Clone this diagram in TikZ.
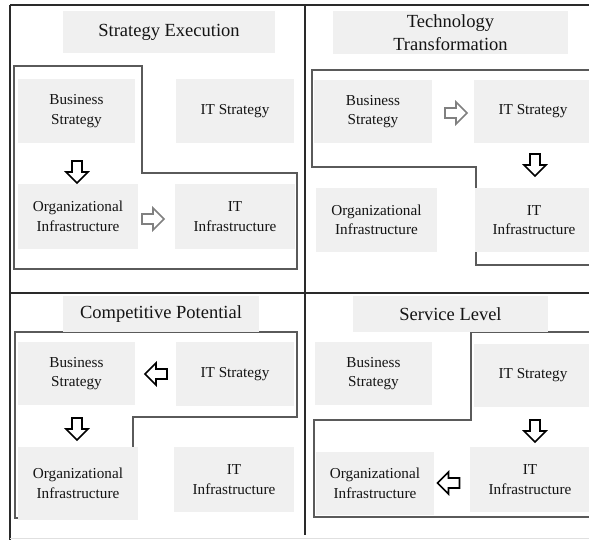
\documentclass[tikz,border=0pt]{standalone}
\usepackage{fontspec}
\setmainfont{Liberation Serif}
\definecolor{boxgray}{HTML}{F0F0F0}
\definecolor{txt}{HTML}{141414}
\definecolor{polyc}{HTML}{5A5A5A}
\definecolor{framec}{HTML}{2A2A2A}
\definecolor{arrgray}{HTML}{808080}
\tikzset{
  box/.style={fill=boxgray, text=txt, align=center, inner sep=0pt,
    font=\fontsize{15.2}{19.5}\selectfont},
  titlebox/.style={box, font=\fontsize{18.5}{23}\selectfont},
  poly/.style={draw=polyc, line width=1.2pt, line join=miter},
  frame/.style={draw=framec, line width=1.5pt},
  pics/barrow/.style={code={
    \draw[line width=1.6pt, line join=miter, pic actions]
      (-11,-5) -- (0,-5) -- (0,-11) -- (11,0) -- (0,11) -- (0,5) -- (-11,5) -- cycle;}},
  blk/.style={draw=black},
  gry/.style={draw=arrgray}
}
\begin{document}
\begin{tikzpicture}[x=1pt,y=-1pt]
\useasboundingbox (0,0) rectangle (589,540);
\clip (0,0) rectangle (589,540);
\fill[white] (0,0) rectangle (589,540);

% ---------- polygons (behind boxes) ----------
\draw[poly] (14,66) -- (142,66) -- (142,173) -- (297,173) -- (297,269) -- (14,269) -- cycle;
\draw[poly] (600,70) -- (312,70) -- (312,167) -- (476,167) -- (476,265) -- (600,265);
\draw[poly] (15,332) -- (297,332) -- (297,417) -- (133,417) -- (133,518) -- (15,518) -- cycle;
\draw[poly] (600,332) -- (471,332) -- (471,420) -- (314,420) -- (314,517) -- (600,517);

% ---------- Quadrant 1 ----------
\node[titlebox, minimum width=212, minimum height=42] (t1) at (169,32) {Strategy Execution};
\node[box, minimum width=117, minimum height=64] (bs1) at (76.5,111) {Business\\Strategy};
\node[box, minimum width=118, minimum height=64] (its1) at (235,111) {IT Strategy};
\node[box, minimum width=120, minimum height=65] (oi1) at (78,216.5) {Organizational\\Infrastructure};
\node[box, minimum width=120, minimum height=65] (iti1) at (235,216.5) {IT\\Infrastructure};
\pic[blk, rotate=-90] at (77,172) {barrow};
\pic[gry] at (153,219) {barrow};

% ---------- Quadrant 2 ----------
\node[titlebox, minimum width=235, minimum height=43] (t2) at (450.5,32.5) {Technology\\Transformation};
\node[box, minimum width=118, minimum height=63] (bs2) at (373,111.5) {Business\\Strategy};
\node[box, minimum width=118, minimum height=63] (its2) at (533,111.5) {IT Strategy};
\node[box, minimum width=121, minimum height=64] (oi2) at (376.5,220) {Organizational\\Infrastructure};
\node[box, minimum width=118, minimum height=64] (iti2) at (534,220) {IT\\Infrastructure};
\pic[gry] at (456,113) {barrow};
\pic[blk, rotate=-90] at (535,165) {barrow};

% ---------- Quadrant 3 ----------
\node[titlebox, minimum width=196, minimum height=36] (t3) at (161,314) {Competitive Potential};
\node[box, minimum width=117, minimum height=63] (bs3) at (76.5,373.5) {Business\\Strategy};
\node[box, minimum width=118, minimum height=64] (its3) at (235,374) {IT Strategy};
\node[box, minimum width=120, minimum height=73] (oi3) at (78,483.5) {Organizational\\Infrastructure};
\node[box, minimum width=120, minimum height=65] (iti3) at (234,479.5) {IT\\Infrastructure};
\pic[blk, rotate=180] at (156,374) {barrow};
\pic[blk, rotate=-90] at (77,429) {barrow};

% ---------- Quadrant 4 ----------
\node[titlebox, minimum width=195, minimum height=36] (t4) at (450.5,314) {Service Level};
\node[box, minimum width=117, minimum height=63] (bs4) at (373.5,373.5) {Business\\Strategy};
\node[box, minimum width=118, minimum height=63] (its4) at (533,375.5) {IT Strategy};
\node[box, minimum width=118, minimum height=63] (oi4) at (375,483.5) {Organizational\\Infrastructure};
\node[box, minimum width=120, minimum height=65] (iti4) at (530,479.5) {IT\\Infrastructure};
\pic[blk, rotate=-90] at (535,431) {barrow};
\pic[blk, rotate=180] at (448.5,483) {barrow};

% ---------- frame ----------
\draw[frame] (10,5) -- (600,5);
\draw[frame] (10,5) -- (10,545);
\draw[frame] (305,5) -- (305,535);
\draw[frame] (10,293) -- (600,293);
\draw[draw=black!12, line width=1pt] (10,538.5) -- (600,538.5);
\end{tikzpicture}
\end{document}
